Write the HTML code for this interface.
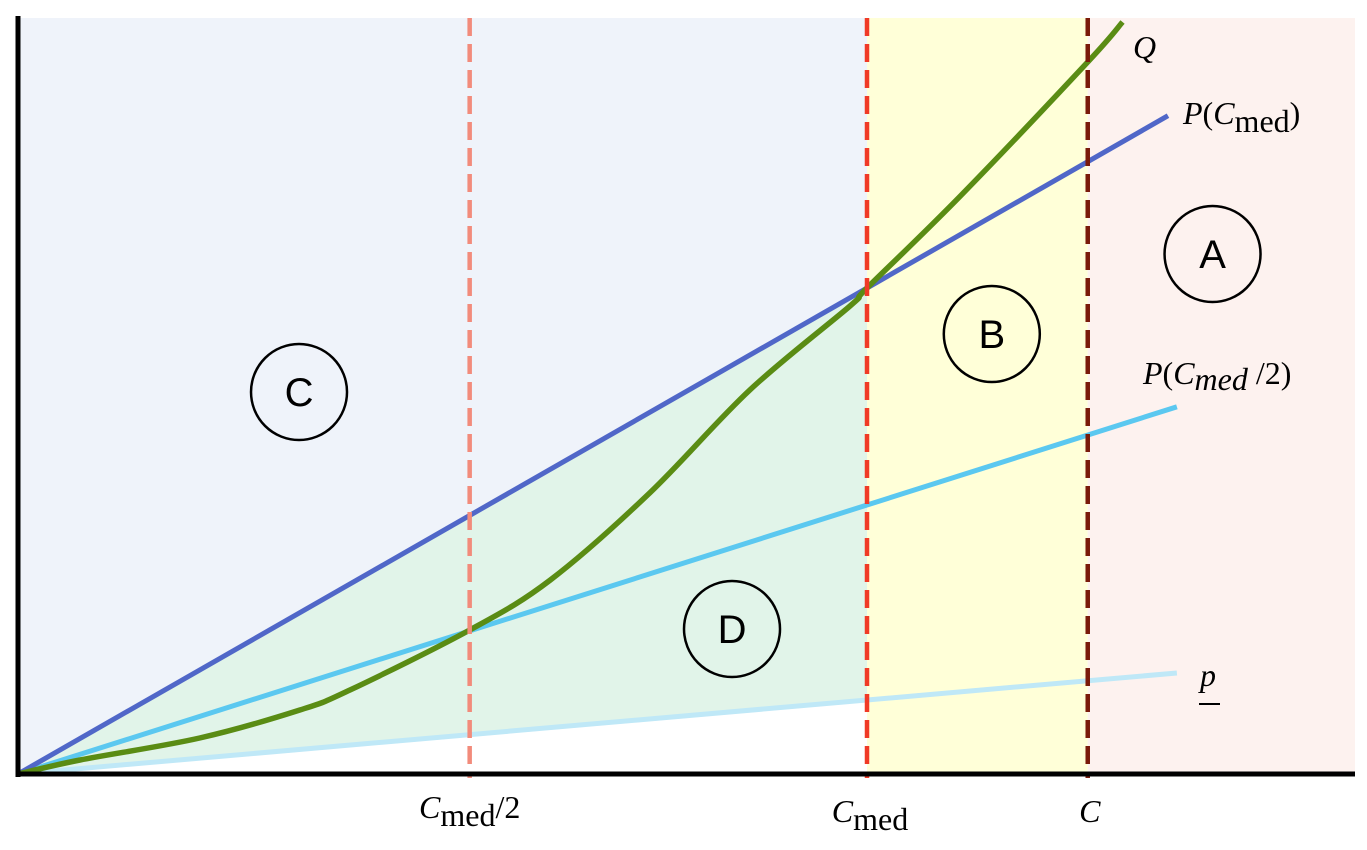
<!DOCTYPE html>
<html><head><meta charset="utf-8"><style>
html,body{margin:0;padding:0;background:#fff;}
svg{display:block;}
.lbl{font-family:"Liberation Serif",serif;font-size:32px;fill:#000;}
.circ{font-family:"Liberation Sans",sans-serif;font-size:40px;fill:#000;}
</style></head><body>
<svg id="chart" width="1367" height="850"></svg>
<script>
const lineNames = ["p-cmed","p-cmed-half","p-low"];
const lineSlopes = [486, 269, 74];
const lineEnds = [1.3545, 1.365, 1.365];
const qX = [0, 0.073, 0.214, 0.332, 0.391, 0.532, 0.627, 0.744, 0.862, 0.980, 1, 1.110, 1.260, 1.301];
const qY = [0, 14, 36, 64, 84, 144, 194, 281, 384, 468, 486, 578, 712, 752];
const vLines = [0.532, 1, 1.26];
const vLabels = ["Cmed/2","Cmed","C"];
const regionLabels = ["C","D","B","A"];
const regionX = [0.331, 0.841, 1.147, 1.407];
const regionY = [382, 145, 440, 520];

const X0=18, Y0=774, SX=849;
const xs = v => X0 + v*SX;
const ys = v => Y0 - v;
const NS="http://www.w3.org/2000/svg";
const svg=document.getElementById('chart');
function mk(tag, attrs, parent){const e=document.createElementNS(NS,tag);for(const k in attrs)e.setAttribute(k,attrs[k]);(parent||svg).appendChild(e);return e;}

let e;
e=mk('rect',{x:xs(0),y:18,width:xs(vLines[1])-xs(0),height:Y0-18,fill:'#eff3fa'});


e=mk('polygon',{points:`${xs(0)},${ys(0)} ${xs(1)},${ys(lineSlopes[2])} ${xs(1)},${Y0}`,fill:'#ffffff'});


e=mk('polygon',{points:`${xs(0)},${ys(0)} ${xs(1)},${ys(lineSlopes[0])} ${xs(1)},${ys(lineSlopes[2])}`,fill:'#e1f4e9'});


e=mk('rect',{x:xs(vLines[1]),y:18,width:xs(vLines[2])-xs(vLines[1]),height:Y0-18,fill:'#ffffd8'});


e=mk('rect',{x:xs(vLines[2]),y:18,width:1355-xs(vLines[2]),height:Y0-18,fill:'#fdf2ef'});



const lineColors=['#5067c8','#5bc8f0','#bfe8f7'];
for(let i=lineSlopes.length-1;i>=0;i--){
  e=mk('line',{x1:xs(0),y1:ys(0),x2:xs(lineEnds[i]),y2:ys(lineSlopes[i]*lineEnds[i]),stroke:lineColors[i],'stroke-width':5});
  
  
}
const pts=qX.map((x,i)=>[xs(x),ys(qY[i])]);
let d=`M${pts[0][0]},${pts[0][1]}`;
for(let i=0;i<pts.length-1;i++){
  const p0=pts[Math.max(0,i-1)],p1=pts[i],p2=pts[i+1],p3=pts[Math.min(pts.length-1,i+2)];
  const c1=[p1[0]+(p2[0]-p0[0])/6,p1[1]+(p2[1]-p0[1])/6];
  const c2=[p2[0]-(p3[0]-p1[0])/6,p2[1]-(p3[1]-p1[1])/6];
  d+=` C${c1[0]},${c1[1]} ${c2[0]},${c2[1]} ${p2[0]},${p2[1]}`;
}
e=mk('path',{d:d,fill:'none',stroke:'#5a8c14','stroke-width':5.5});



const vColors=['#f28b7b','#f03a26','#7a1a0a'];
vLines.forEach((v,i)=>{
  const l=mk('line',{x1:xs(v),y1:18,x2:xs(v),y2:Y0+4,stroke:vColors[i],'stroke-width':4.5,'stroke-dasharray':'18 8'});
  
  
});

e=mk('line',{x1:X0,y1:16,x2:X0,y2:Y0+3,stroke:'#000','stroke-width':5});


e=mk('line',{x1:X0-2,y1:Y0,x2:1355,y2:Y0,stroke:'#000','stroke-width':5});



regionLabels.forEach((t,i)=>{
  const g=mk('g',{});
  
  
  const cx=xs(regionX[i]), cy=ys(regionY[i]);
  mk('circle',{cx:cx,cy:cy,r:48,fill:'none',stroke:'#000','stroke-width':2.5},g);
  const tx=mk('text',{x:cx,y:cy+14,'text-anchor':'middle',class:'circ'},g);
  tx.textContent=t;
});

function cm(x,y,sub,tail,anchor,italicSub){
  const t=mk('text',{x:x,y:y,class:'lbl','text-anchor':anchor||'middle'});
  t.innerHTML=`<tspan font-style="italic">C</tspan><tspan dy="8" font-style="${italicSub?'italic':'normal'}">${sub}</tspan>`+(tail?`<tspan dy="-8">${tail}</tspan>`:'');
  return t;
}
e=cm(xs(vLines[0]),818,'med','/2');


e=cm(xs(vLines[1])+3,822,'med','');


e=mk('text',{x:xs(vLines[2])+2,y:822,class:'lbl','text-anchor':'middle','font-style':'italic'});e.textContent='C';



e=mk('text',{x:1133,y:58,class:'lbl','font-style':'italic','font-size':'28'});e.textContent='Q';


e=mk('text',{x:1183,y:124,class:'lbl'});
e.innerHTML='<tspan font-style="italic">P</tspan>(<tspan font-style="italic">C</tspan><tspan dy="8">med</tspan><tspan dy="-8">)</tspan>';


e=mk('text',{x:1143,y:384,class:'lbl'});
e.innerHTML='<tspan font-style="italic">P</tspan>(<tspan font-style="italic">C</tspan><tspan dy="6" font-style="italic">med</tspan><tspan dy="-6"> /2)</tspan>';


e=mk('text',{x:1200,y:686,class:'lbl','font-style':'italic'});e.textContent='p';


e=mk('line',{x1:1199,y1:704,x2:1220,y2:704,stroke:'#000','stroke-width':2});


</script>
</body></html>
